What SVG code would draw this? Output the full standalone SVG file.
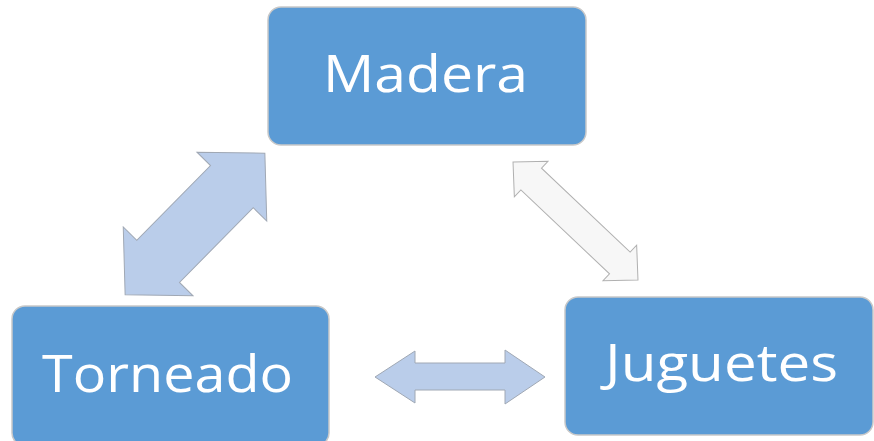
<svg xmlns="http://www.w3.org/2000/svg" width="874" height="441" viewBox="0 0 874 441">
<style>
.box{fill:#5B9BD5;stroke:#C9C9C9;stroke-width:1.5}
.lbl{fill:#FFFFFF;font-family:"Open Sans","DejaVu Sans",sans-serif;font-size:52px;text-anchor:middle}
.arr{fill:#BACDEA;stroke:#A0A8B4;stroke-width:1}
.arrw{fill:#F7F7F7;stroke:#B0B0B0;stroke-width:1}
</style>
<rect width="874" height="441" fill="#FFFFFF"/>
<g id="connectors">
<g id="arrow-madera-torneado" transform="translate(195,224) rotate(-45.4)">
<polygon class="arr" points="-99.5,0 -52.5,-49 -52.5,-30 52.5,-30 52.5,-49 99.5,0 52.5,49 52.5,30 -52.5,30 -52.5,49"/>
</g>
<g id="arrow-madera-juguetes" transform="translate(575.5,221) rotate(43.4)">
<polygon class="arrw" points="-86,0 -61,-24.5 -61,-15 61,-15 61,-24.5 86,0 61,24.5 61,15 -61,15 -61,24.5"/>
</g>
<g id="arrow-torneado-juguetes">
<polygon class="arr" points="375,377 415,351 415,363 505,363 505,350 545,377 505,404 505,390 415,390 415,403"/>
</g>
</g>
<g id="node-madera">
<rect class="box" x="268" y="7" width="318" height="138" rx="13"/>
<text class="lbl" x="425.5" y="92" textLength="205" lengthAdjust="spacingAndGlyphs">Madera</text>
</g>
<g id="node-torneado">
<rect class="box" x="12" y="306" width="317" height="140" rx="13"/>
<text class="lbl" x="167.5" y="392" textLength="251" lengthAdjust="spacingAndGlyphs">Torneado</text>
</g>
<g id="node-juguetes">
<rect class="box" x="565" y="297" width="308" height="138" rx="13"/>
<text class="lbl" x="721.5" y="381" textLength="233" lengthAdjust="spacingAndGlyphs">Juguetes</text>
</g>
</svg>
